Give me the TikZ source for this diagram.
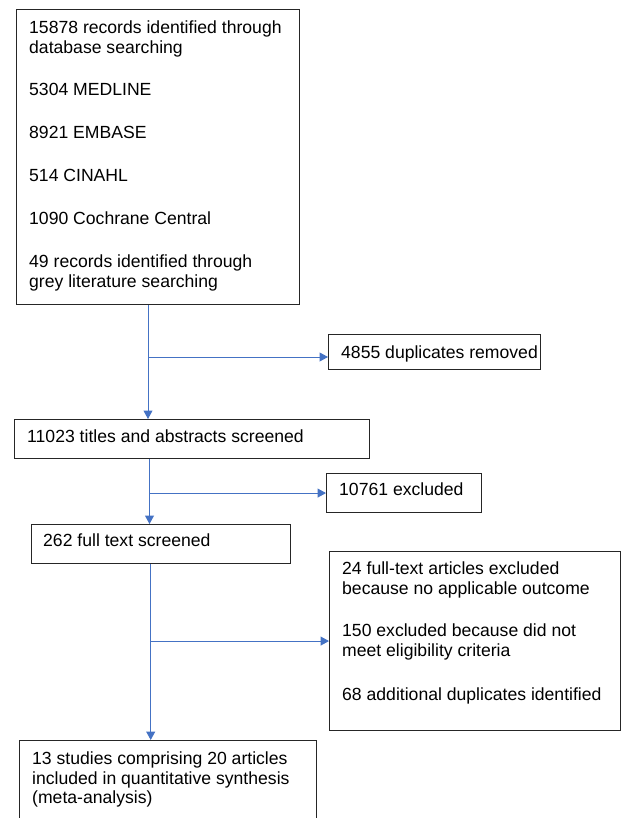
\documentclass[tikz,border=0pt]{standalone}
\usepackage{fontspec}
\setmainfont{Liberation Sans}
\usetikzlibrary{arrows.meta}
\definecolor{arrowblue}{HTML}{4472C4}
\definecolor{boxline}{HTML}{262626}
\begin{document}
\begin{tikzpicture}[x=1pt,y=-1pt,
  box/.style={draw=boxline, line width=1.1pt, inner sep=0pt, anchor=north west, rectangle},
  txt/.style={anchor=base west, inner sep=0pt, font=\fontsize{17.6}{20}\selectfont},
  arr/.style={draw=arrowblue, line width=1pt, -{Triangle[length=8.5pt,width=9pt]}}]
\useasboundingbox (0,0) rectangle (621,818);
\clip (0,0) rectangle (621,818);
\fill[white] (0,0) rectangle (621,818);
% boxes
\node[box, minimum width=283pt, minimum height=295pt] (recs) at (16,9) {};
\node[box, minimum width=212pt, minimum height=35pt] (dup) at (328,334) {};
\node[box, minimum width=355pt, minimum height=39pt] (titles) at (14,419) {};
\node[box, minimum width=155pt, minimum height=39pt] (excl) at (326,473) {};
\node[box, minimum width=259pt, minimum height=39pt] (full) at (31,524) {};
\node[box, minimum width=291pt, minimum height=179pt] (big) at (329,551) {};
\node[box, minimum width=297pt, minimum height=100pt] (final) at (19,740) {};
% texts
\node[txt] (r1) at (29,33.3) {15878 records identified through};
\node[txt] (r2) at (29,53.3) {database searching};
\node[txt] (r3) at (29,95.5) {5304 MEDLINE};
\node[txt] (r4) at (29,138.5) {8921 EMBASE};
\node[txt] (r5) at (29,182) {514 CINAHL};
\node[txt] (r6) at (29,225) {1090 Cochrane Central};
\node[txt] (r7) at (29,267) {49 records identified through};
\node[txt] (r8) at (29,287) {grey literature searching};
\node[txt] (d1) at (341,358.3) {4855 duplicates removed};
\node[txt] (s1) at (27,442) {11023 titles and abstracts screened};
\node[txt] (e1) at (339,495) {10761 excluded};
\node[txt] (f1) at (43,546.7) {262 full text screened};
\node[txt] (b1) at (342,574.3) {24 full-text articles excluded};
\node[txt] (b2) at (342,594.3) {because no applicable outcome};
\node[txt] (b3) at (342,636.7) {150 excluded because did not};
\node[txt] (b4) at (342,656.7) {meet eligibility criteria};
\node[txt] (b5) at (342,700) {68 additional duplicates identified};
\node[txt] (q1) at (32,764) {13 studies comprising 20 articles};
\node[txt] (q2) at (32,784) {included in quantitative synthesis};
\node[txt] (q3) at (32,803.5) {(meta-analysis)};
% connector guides
\coordinate (x1) at (148,0);
\coordinate (x2) at (149.5,0);
\coordinate (x3) at (150.7,0);
\coordinate (y1) at (0,357);
% connectors
\draw[arr] (x1 |- recs.south) -- (x1 |- titles.north);
\draw[arr] (x1 |- y1) -- (dup.west |- y1);
\draw[arr] (x2 |- titles.south) -- (x2 |- full.north);
\draw[arr] (x2 |- excl.west) -- (excl.west);
\draw[arr] (x3 |- full.south) -- (x3 |- final.north);
\draw[arr] (x3 |- big.west) -- (big.west);
\end{tikzpicture}
\end{document}
